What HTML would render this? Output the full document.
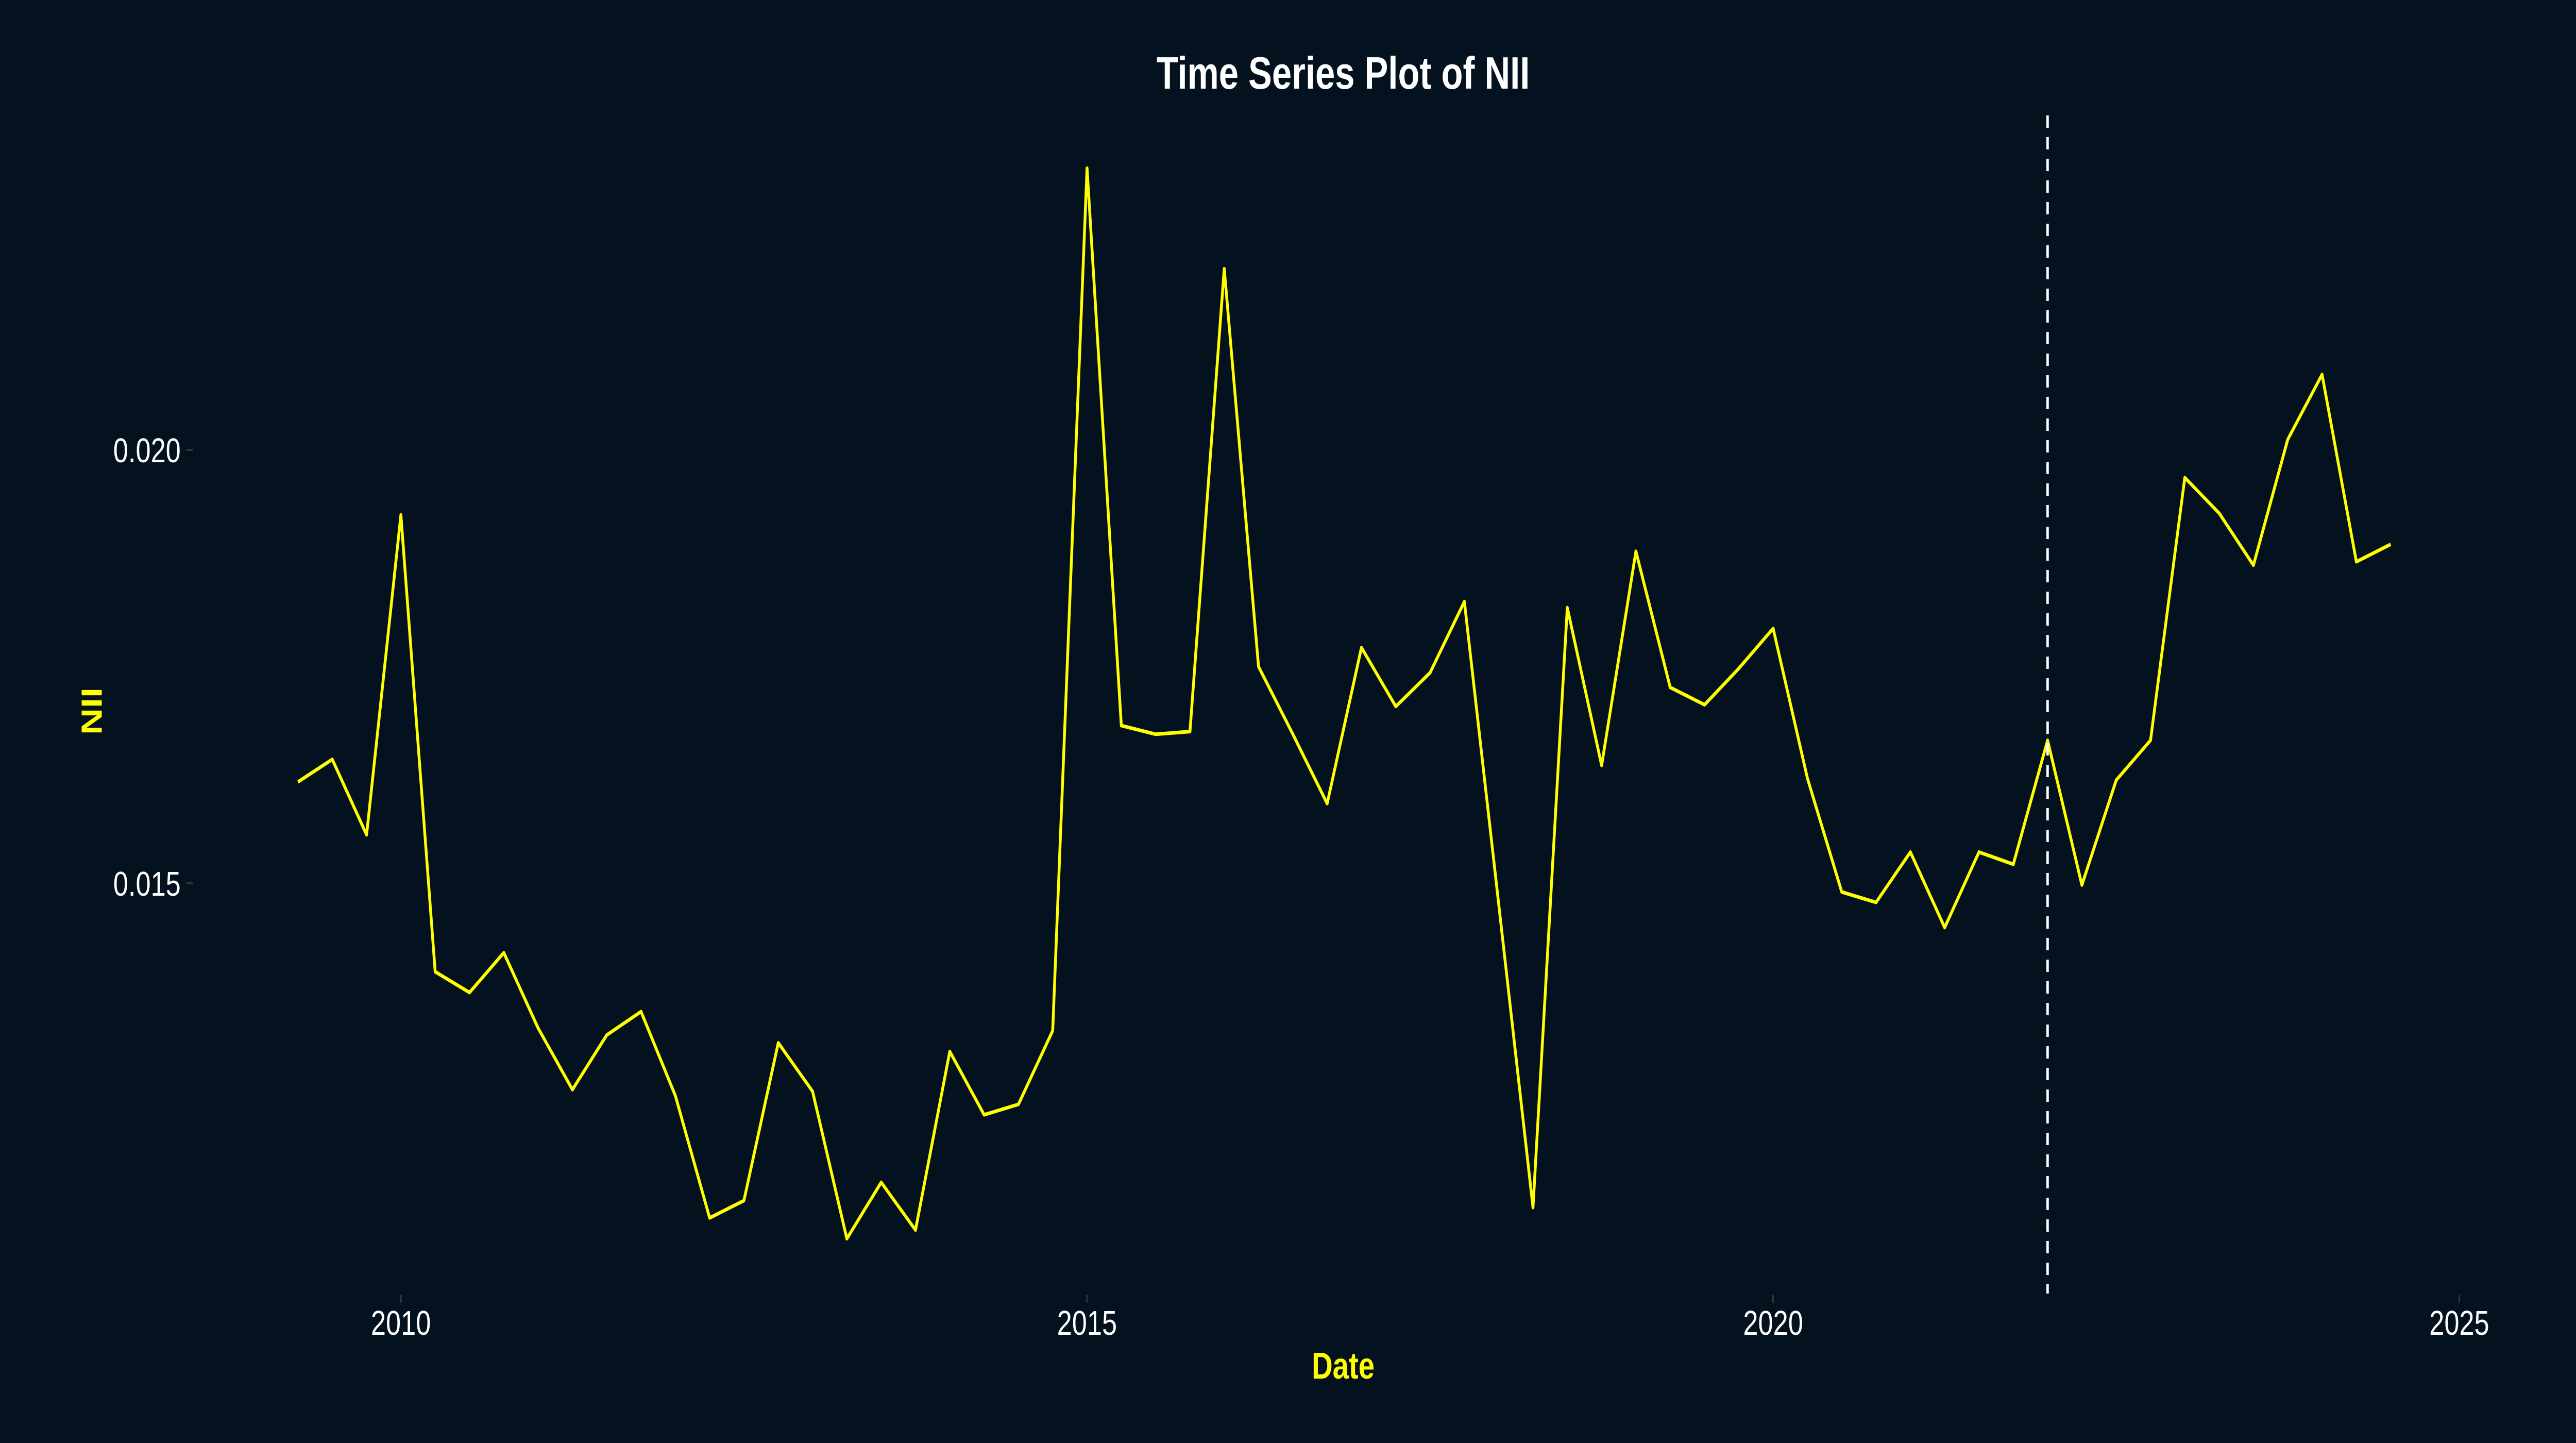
<!DOCTYPE html>
<html><head><meta charset="utf-8"><style>
html,body{margin:0;padding:0;background:#04111f;width:100%;height:100%;overflow:hidden;}
svg{display:block;width:100vw;height:100vh;font-family:"Liberation Sans",Arial,sans-serif;}
</style></head><body>
<svg id="chart" viewBox="0 0 6400 2800" preserveAspectRatio="none" xmlns="http://www.w3.org/2000/svg">
<rect x="0" y="0" width="6400" height="2800" fill="#04111f"/>
<text x="3337" y="172" font-size="88" font-weight="bold" fill="#ffffff" text-anchor="middle">Time Series Plot of NII</text>
<text x="3337" y="2675" font-size="72" font-weight="bold" fill="#ffff00" text-anchor="middle">Date</text>
<text x="0" y="0" font-size="72" font-weight="bold" fill="#ffff00" text-anchor="middle" transform="translate(253,1380) rotate(-90)">NII</text>
<g id="axes"></g>
<g id="marks"></g>
</svg>
<script>
const startYear = 2009.25;
const stepYears = 0.25;
const niiValues = [0.01617,0.01643,0.01556,0.01925,0.01398,0.01374,0.0142,0.01333,0.01262,0.01325,0.01352,0.01255,0.01114,0.01134,0.01316,0.0126,0.0109,0.01155,0.011,0.01306,0.01233,0.01245,0.0133,0.02325,0.01682,0.01672,0.01675,0.02209,0.0175,0.01672,0.01592,0.01772,0.01704,0.01743,0.01825,0.01476,0.01126,0.01818,0.01636,0.01883,0.01726,0.01706,0.01748,0.01794,0.01621,0.0149,0.01478,0.01536,0.01449,0.01536,0.01522,0.01665,0.01498,0.01619,0.01665,0.01968,0.01927,0.01867,0.02012,0.02087,0.01871,0.01891];
const xTickYears = [2010,2015,2020,2025];
const xTickLabels = ["2010","2015","2020","2025"];
const yTickValues = [0.015,0.020];
const yTickLabels = ["0.015","0.020"];
const cutoffYear = [2022];

const NS = "http://www.w3.org/2000/svg";
function xScale(yr){ return 996 + (yr - 2010) * (6110 - 996) / 15; }
function yScale(v){ return 873 + (0.020 - v) * (1714 - 873) / 0.005; }
const axes = document.getElementById('axes');
const marks = document.getElementById('marks');
function mk(tag, attrs){ const e=document.createElementNS(NS,tag); for(const k in attrs) e.setAttribute(k,attrs[k]); return e; }

xTickYears.forEach((yr,i)=>{
  const x = xScale(yr);
  const t = mk('line',{x1:x,x2:x,y1:2513,y2:2528,stroke:'#333333','stroke-width':4});
  
  
  axes.appendChild(t);
  const l = mk('text',{x:x,y:2590,'font-size':67,fill:'#ffffff','text-anchor':'middle'});
  l.textContent = xTickLabels[i];
  
  
  axes.appendChild(l);
});
yTickValues.forEach((v,i)=>{
  const y = yScale(v);
  const t = mk('line',{x1:463,x2:479,y1:y,y2:y,stroke:'#333333','stroke-width':4});
  
  
  axes.appendChild(t);
  const l = mk('text',{x:449,y:y+24,'font-size':67,fill:'#ffffff','text-anchor':'end'});
  l.textContent = yTickLabels[i];
  
  
  axes.appendChild(l);
});

const pts = niiValues.map((v,i)=> xScale(startYear + i*stepYears).toFixed(1)+','+yScale(v).toFixed(1)).join(' ');
const line = mk('polyline',{points:pts,fill:'none',stroke:'#ffff00','stroke-width':7,'stroke-linejoin':'round'});


marks.appendChild(line);

cutoffYear.forEach(yr=>{
  const x = xScale(yr);
  const d = mk('line',{x1:x,x2:x,y1:224,y2:2510,stroke:'#ffffff','stroke-width':6,'stroke-dasharray':'24,18'});
  
  
  marks.appendChild(d);
});
</script>
</body></html>
